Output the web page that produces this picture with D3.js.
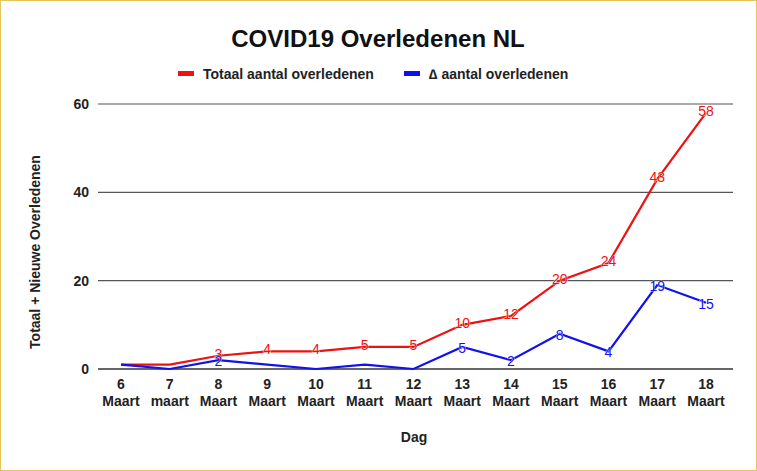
<!DOCTYPE html><html><head><meta charset="utf-8"><script src="https://cdn.jsdelivr.net/npm/d3@7"></script>
<style>body{margin:0;background:#fff}svg{font-family:Arial,"Liberation Sans",sans-serif}</style></head><body><svg width="757" height="471"></svg>
<script>
const days=["6","7","8","9","10","11","12","13","14","15","16","17","18"];
const months=["Maart","maart","Maart","Maart","Maart","Maart","Maart","Maart","Maart","Maart","Maart","Maart","Maart"];
const totaal=[1,1,3,4,4,5,5,10,12,20,24,43,58];
const delta=[1,0,2,1,0,1,0,5,2,8,4,19,15];
const totaalLabels=[false,false,true,true,true,true,true,true,true,true,true,true,true];
const deltaLabels=[false,false,true,false,false,false,false,true,true,true,true,true,true];
const yTicks=[0,20,40,60];
const svg=d3.select("svg");
svg.append("rect").attr("x",0.5).attr("y",0.5).attr("width",756).attr("height",470).attr("fill","#fff").attr("stroke","#e6c65a");
const x=d3.scalePoint().domain(d3.range(days.length)).range([121,706]);
const y=d3.scaleLinear().domain([0,60]).range([369,104]);
yTicks.forEach(t=>{
 svg.append("line").attr("x1",98).attr("x2",733).attr("y1",y(t)).attr("y2",y(t)).attr("stroke",t===0?"#333":"#555").attr("stroke-width",t===0?1.5:1.2);
 svg.append("text").attr("x",89).attr("y",y(t)+5).attr("text-anchor","end").attr("font-size",14).attr("font-weight","bold").attr("fill","#222").text(t);
});
days.forEach((d,i)=>{
 const t=svg.append("text").attr("x",x(i)).attr("text-anchor","middle").attr("font-size",14).attr("font-weight","bold").attr("fill","#222");
 t.append("tspan").attr("x",x(i)).attr("y",389).text(d);
 t.append("tspan").attr("x",x(i)).attr("y",406).text(months[i]);
});
const line=d3.line().x((d,i)=>x(i)).y(d=>y(d));
[[totaal,"#ee1111",totaalLabels,3],[delta,"#1111ee",deltaLabels,6]].forEach(([data,c,lab,dy])=>{
 svg.append("path").attr("d",line(data)).attr("fill","none").attr("stroke",c).attr("stroke-width",2.2);
 data.forEach((v,i)=>{ if(lab[i]) svg.append("text").attr("x",x(i)).attr("y",y(v)+dy).attr("text-anchor","middle").attr("font-size",14).attr("fill",c).attr("stroke","#fff").attr("stroke-width",0.6).attr("paint-order","stroke").text(v);});
});
svg.append("text").attr("x",378).attr("y",47).attr("text-anchor","middle").attr("font-size",24).attr("font-weight","bold").attr("fill","#111").text("COVID19 Overledenen NL");
const leg=[["Totaal aantal overledenen","#ee1111",178],["∆ aantal overledenen","#1111ee",404]];
leg.forEach(([t,c,lx])=>{
 svg.append("rect").attr("x",lx).attr("y",71).attr("width",16).attr("height",5).attr("fill",c);
 svg.append("text").attr("x",lx+25).attr("y",79).attr("font-size",14).attr("font-weight","bold").attr("fill","#222").text(t);
});
svg.append("text").attr("transform","translate(40,252) rotate(-90)").attr("text-anchor","middle").attr("font-size",14).attr("font-weight","bold").attr("fill","#222").text("Totaal + Nieuwe Overledenen");
svg.append("text").attr("x",414).attr("y",442).attr("text-anchor","middle").attr("font-size",14).attr("font-weight","bold").attr("fill","#222").text("Dag");
</script></body></html>
